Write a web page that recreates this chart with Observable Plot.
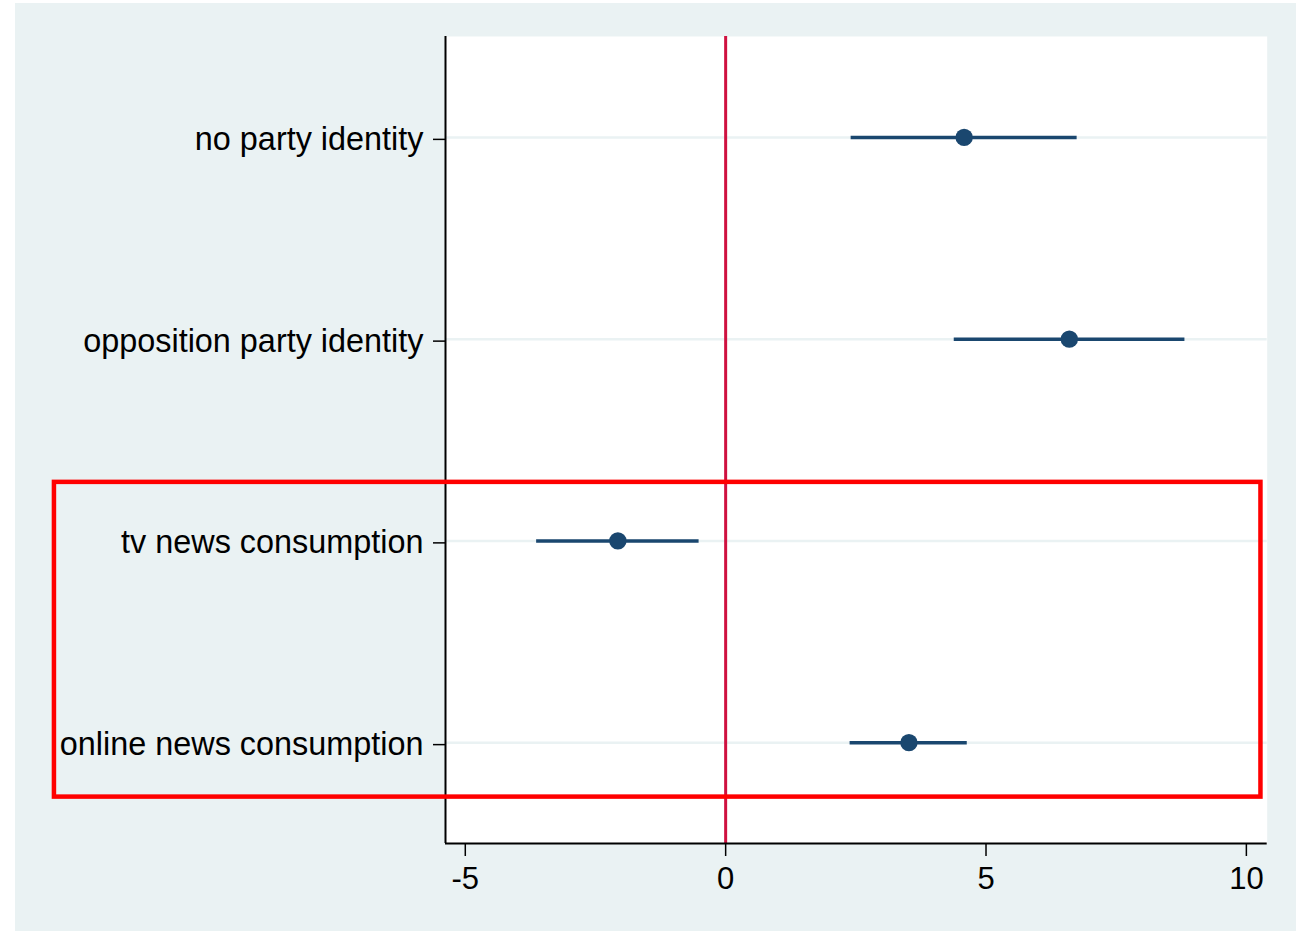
<!DOCTYPE html>
<html>
<head>
<meta charset="utf-8">
<script src="https://cdn.jsdelivr.net/npm/d3@7"></script>
<script src="https://cdn.jsdelivr.net/npm/@observablehq/plot@0.6"></script>
<style>
  html, body { margin: 0; padding: 0; background: #ffffff; }
  #wrap { position: relative; width: 1296px; height: 932px; background: #ffffff; overflow: hidden; }
  #panel { position: absolute; left: 15px; top: 3px; width: 1281px; height: 928px; background: #eaf2f3; }
  #chart { position: absolute; left: 0; top: 0; }
</style>
</head>
<body>
<div id="wrap"><div id="panel"></div><div id="chart"></div></div>
<script>
// Data
const categories = ["no party identity", "opposition party identity", "tv news consumption", "online news consumption"];
const estimates = [4.58, 6.60, -2.07, 3.52];
const lower = [2.41, 4.39, -3.63, 2.39];
const upper = [6.75, 8.82, -0.51, 4.64];
const xTicks = [-5, 0, 5, 10];
const xTickLabels = ["-5", "0", "5", "10"];
const xDomain = [-5.38, 10.40];
const yDomain = [-0.5, 3.5];
// Highlight box annotation (data units) around the news-consumption rows
const boxX = [-12.89, 10.28];
const boxY = [1.71, 3.27];

const rows = categories.map((c, i) => ({i, label: c, est: estimates[i], lo: lower[i], hi: upper[i]}));
const box = [{x1: boxX[0], x2: boxX[1], y1: boxY[0], y2: boxY[1]}];

const navy = "#1a476f";

const chart = Plot.plot({
  width: 1296,
  height: 932,
  marginLeft: 445,
  marginRight: 29.3,
  marginTop: 36,
  marginBottom: 89,
  style: {background: "transparent", fontFamily: "'Liberation Sans', Arial, Helvetica, sans-serif", color: "#000"},
  x: {domain: xDomain},
  y: {domain: yDomain, reverse: true},
  marks: [
    Plot.frame({fill: "#ffffff"}),
    Plot.ruleY(rows, {y: "i", stroke: "#eaf2f3", strokeWidth: 2.5}),
    Plot.ruleX([0], {stroke: "#cf1140", strokeWidth: 3}),
    Plot.ruleX([xDomain[0]], {stroke: "#000", strokeWidth: 2}),
    Plot.ruleY([yDomain[1]], {stroke: "#000", strokeWidth: 2}),
    Plot.axisY({ticks: rows.map(d => d.i), tickFormat: i => categories[i], fontSize: 32.4, tickSize: 12, tickPadding: 10, dy: 2, label: null, strokeWidth: 1.5}),
    Plot.axisX({ticks: xTicks, tickFormat: v => xTickLabels[xTicks.indexOf(v)], fontSize: 31, tickSize: 13, tickPadding: 10, label: null, strokeWidth: 1.5}),
    Plot.ruleY(rows, {y: "i", x1: "lo", x2: "hi", stroke: navy, strokeWidth: 3.5}),
    Plot.dot(rows, {x: "est", y: "i", r: 8.7, fill: navy, stroke: null}),
    Plot.rect(box, {x1: "x1", x2: "x2", y1: "y1", y2: "y2", fill: "none", stroke: "#ff0000", strokeWidth: 4.5})
  ]
});
document.getElementById("chart").appendChild(chart);
</script>
</body>
</html>
